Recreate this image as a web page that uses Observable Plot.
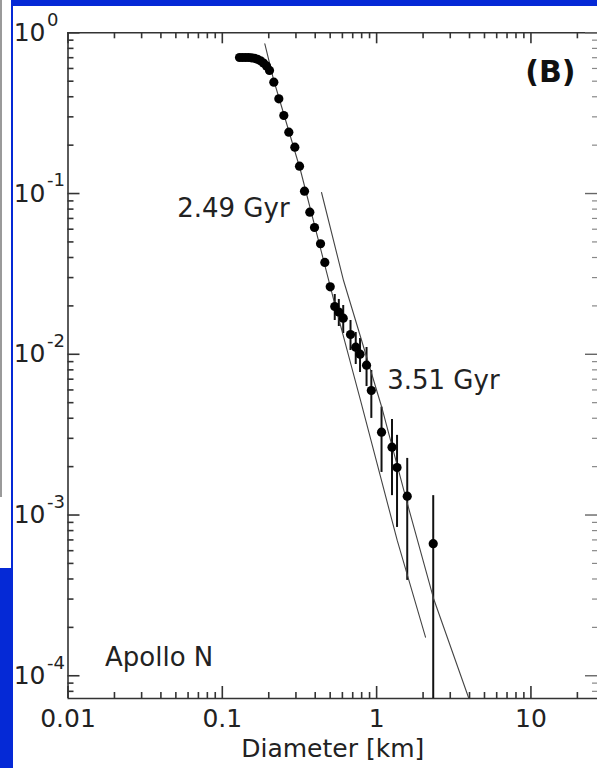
<!DOCTYPE html>
<html><head><meta charset="utf-8">
<script src="https://cdn.jsdelivr.net/npm/d3@7"></script>
<script src="https://cdn.jsdelivr.net/npm/@observablehq/plot@0.6"></script>
<style>
html,body{margin:0;padding:0;background:#fff;}
#wrap{position:relative;width:597px;height:768px;overflow:hidden;background:#fff;}
#chart{position:absolute;left:0;top:0;}
.deco{position:absolute;}
</style></head><body>
<div id="wrap"><div id="chart"></div>
<div class="deco" style="left:11px;top:0;width:586px;height:6px;background:#0529d6"></div>
<div class="deco" style="left:11px;top:0;width:2px;height:568px;background:#0529d6"></div>
<div class="deco" style="left:0;top:568px;width:13px;height:200px;background:#0529d6"></div>
<div class="deco" style="left:0;top:0;width:2px;height:497px;background:#9a9a9a"></div>
</div>
<script>
// ---- data ----
const diameter = [0.1293,0.1352,0.1414,0.1478,0.1546,0.1617,0.1690,0.1768,0.1849,0.1934,0.2022,
  0.2157,0.2324,0.2504,0.2698,0.2951,0.3165,0.3409,0.3691,0.3959,0.4330,0.4616,0.5004,
  0.5353,0.5689,0.6075,0.6773,0.7322,0.7807,0.8604,0.9240,1.076,1.258,1.356,1.579,2.327];
const cumFraction = [0.702,0.702,0.702,0.702,0.699,0.694,0.684,0.669,0.649,0.622,0.583,
  0.4929,0.3886,0.3059,0.2408,0.1943,0.1480,0.1034,0.0766,0.0615,0.0487,0.0373,0.0263,
  0.01983,0.01833,0.01677,0.01328,0.01107,0.01001,0.00855,0.00595,0.003276,0.002643,0.001976,0.001310,0.000663];

const errDiameter = [0.5353,0.5689,0.6075,0.6773,0.7322,0.7807,0.8604,0.9240,1.076,1.258,1.356,1.579,2.327];
const errHigh = [0.02355,0.02193,0.02011,0.01623,0.01366,0.01254,0.01102,0.00793,0.00469,0.00393,0.00313,0.00225,0.00132];
const errLow  = [0.01623,0.01489,0.01347,0.01056,0.00864,0.00770,0.00630,0.00399,0.00184,0.00132,0.000837,0.000392,0.0000722];

const fitA_D = [0.1886,0.2147,0.3213,0.5281,0.7864,1.360,2.074];          // 2.49 Gyr
const fitA_N = [0.8543,0.5123,0.1391,0.02162,0.00516,0.000695,0.0001738];
const fitB_D = [0.4395,0.6103,1.076,1.562,2.338,3.940];                    // 3.51 Gyr
const fitB_N = [0.1015,0.02877,0.004735,0.001232,0.0003027,0.0000733];

const xDomain = [0.01, 27];
const yDomain = [7.22e-5, 1];
const xMajor = [0.01, 0.1, 1, 10];
const xTickLabels = ["0.01", "0.1", "1", "10"];
const yMajor = [1, 0.1, 0.01, 0.001, 0.0001];
const yExponents = ["0", "-1", "-2", "-3", "-4"];
const axisTitle = "Diameter [km]";
const fitLabels = ["2.49 Gyr", "3.51 Gyr"];
const fitLabelAt = [[0.0510, 0.0805], [1.171, 0.00687]];
const panelLabel = "(B)";
const sampleLabel = "Apollo N";

// minor log ticks (2..9 per decade)
const xMinor = [], yMinor = [];
for (const d of [0.01, 0.1, 1, 10]) for (let m = 2; m <= 9; m++) { const v = m * d; if (v <= xDomain[1]) xMinor.push(v); }
for (const d of [1e-5, 1e-4, 1e-3, 1e-2, 1e-1]) for (let m = 2; m <= 9; m++) { const v = m * d; if (v >= yDomain[0] && v < 1) yMinor.push(v); }

const W = 597, H = 768, mT = 32.3, mL = 67.5, mR = 0, mB = 70;
const pw = W - mL - mR, ph = H - mT - mB;

const points = diameter.map((d, i) => ({d, n: cumFraction[i]}));
const errs = errDiameter.map((d, i) => ({d, lo: errLow[i], hi: errHigh[i]}));
const fitA = fitA_D.map((d, i) => ({d, n: fitA_N[i]}));
const fitB = fitB_D.map((d, i) => ({d, n: fitB_N[i]}));
const ink = "#222";
const font = "DejaVu Sans";

const chart = Plot.plot({
  width: W, height: H,
  marginTop: mT, marginLeft: mL, marginRight: mR, marginBottom: mB,
  x: {type: "log", domain: xDomain, axis: null},
  y: {type: "log", domain: yDomain, axis: null},
  style: {fontFamily: font, background: "transparent", overflow: "visible"},
  marks: [
    // axis lines
    Plot.ruleX([xDomain[0]], {stroke: "#333", strokeWidth: 1.6}),
    Plot.ruleY([yDomain[1]], {stroke: "#333", strokeWidth: 1.6}),
    Plot.ruleY([yDomain[0]], {stroke: "#333", strokeWidth: 1.6}),
    // bottom ticks
    Plot.tickX(xMajor, {insetTop: ph - 12, stroke: "#333", strokeWidth: 1.6}),
    Plot.tickX(xMinor, {insetTop: ph - 6, stroke: "#333", strokeWidth: 1.6}),
    // top ticks
    Plot.tickX(xMajor, {insetBottom: ph - 11, stroke: "#333", strokeWidth: 1.6}),
    Plot.tickX(xMinor, {insetBottom: ph - 6, stroke: "#333", strokeWidth: 1.6}),
    // left ticks
    Plot.tickY(yMajor, {insetRight: pw - 12, stroke: "#333", strokeWidth: 1.6}),
    Plot.tickY(yMinor, {insetRight: pw - 6, stroke: "#333", strokeWidth: 1.6}),
    // right ticks
    Plot.tickY(yMajor, {insetLeft: pw - 12, stroke: "#666", strokeWidth: 1.4}),
    Plot.tickY(yMinor, {insetLeft: pw - 5, stroke: "#888", strokeWidth: 1.2}),
    // x tick labels
    Plot.text(xMajor, {x: d => d, text: (d, i) => xTickLabels[i], frameAnchor: "bottom", dy: 20.5,
      lineAnchor: "middle", fontSize: 25, fill: ink}),
    Plot.text([axisTitle], {frameAnchor: "bottom", dy: 50, lineAnchor: "middle", fontSize: 25, fill: ink}),
    // y tick labels: 10 with superscript exponent
    Plot.text(yMajor, {y: d => d, text: () => "10", frameAnchor: "left", dx: -22.5, textAnchor: "end",
      lineAnchor: "middle", fontSize: 25, fill: ink}),
    Plot.text(yMajor, {y: d => d, text: (d, i) => yExponents[i], frameAnchor: "left", dx: -21, dy: -13,
      textAnchor: "start", lineAnchor: "middle", fontSize: 18, fill: ink}),
    // error bars
    Plot.ruleX(errs, {x: "d", y1: "lo", y2: "hi", stroke: "#111", strokeWidth: 2}),
    // fits
    Plot.line(fitA, {x: "d", y: "n", stroke: "#444", strokeWidth: 1.1}),
    Plot.line(fitB, {x: "d", y: "n", stroke: "#444", strokeWidth: 1.1}),
    // data
    Plot.dot(points, {x: "d", y: "n", r: 4.6, fill: "#000", stroke: "none"}),
    // annotations
    Plot.text(fitLabels, {x: (d, i) => fitLabelAt[i][0], y: (d, i) => fitLabelAt[i][1], text: d => d,
      textAnchor: "start", lineAnchor: "middle", fontSize: 26, fill: ink}),
    Plot.text([panelLabel], {frameAnchor: "top-right", dx: -22, dy: 39.5, textAnchor: "end",
      lineAnchor: "middle", fontSize: 30, fontWeight: "bold", fill: "#111"}),
    Plot.text([sampleLabel], {frameAnchor: "bottom-left", dx: 37, dy: -41, textAnchor: "start",
      lineAnchor: "middle", fontSize: 26, fill: ink})
  ]
});
document.getElementById("chart").appendChild(chart);
</script>
</body></html>
